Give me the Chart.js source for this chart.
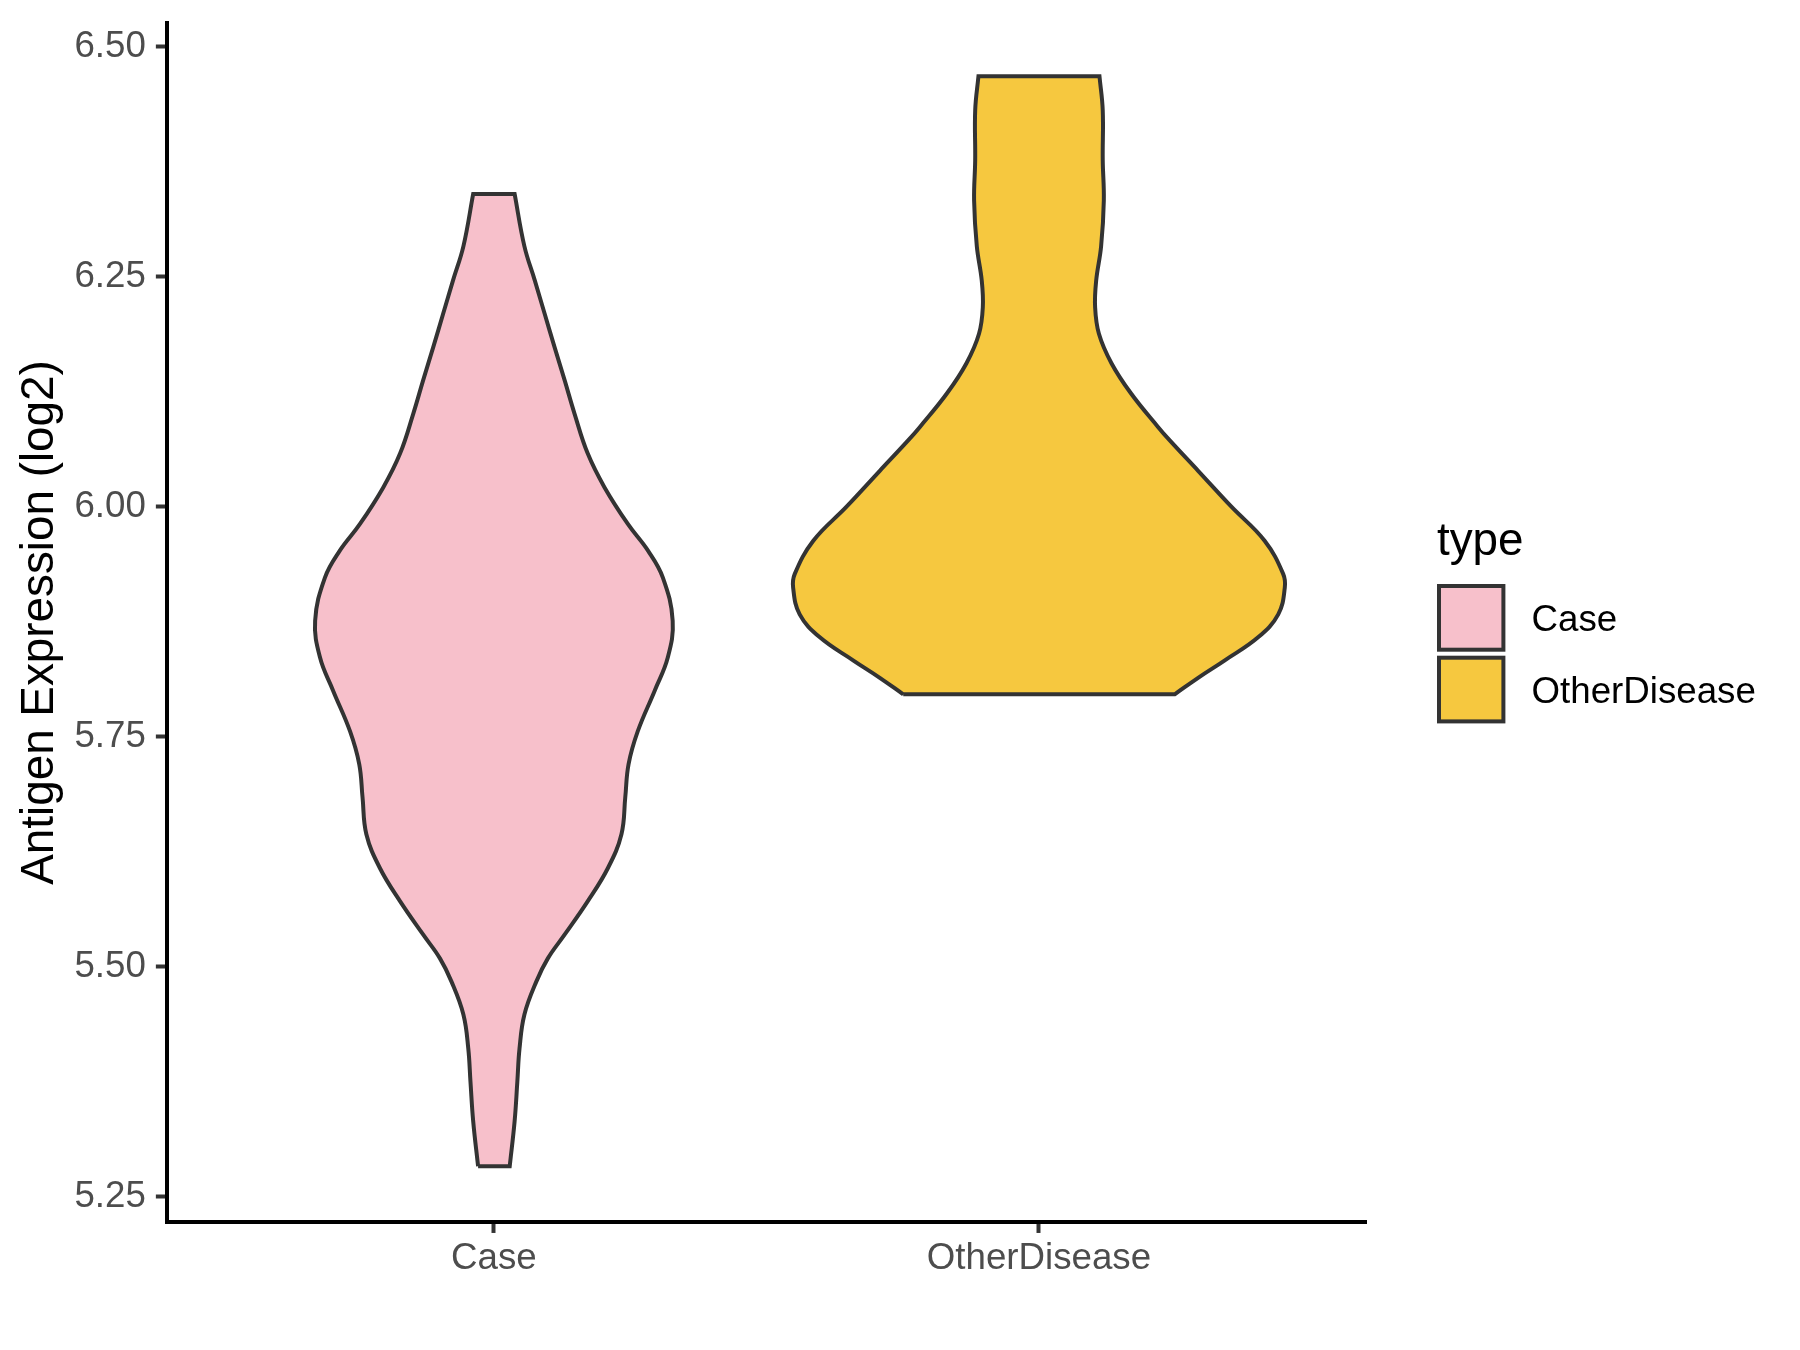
<!DOCTYPE html>
<html>
<head>
<meta charset="utf-8">
<script src="https://cdn.jsdelivr.net/npm/chart.js@4.4.1/dist/chart.umd.min.js"></script>
<style>
  html, body { margin: 0; padding: 0; background: #fff; }
</style>
</head>
<body>
<canvas id="violin" width="1800" height="1350"></canvas>
<script>
// Groups on the x axis and their fills
var groups = ["Case", "OtherDisease"];
var fills = ["#F7C0CB", "#F6C83F"];
var yTicks = [5.25, 5.50, 5.75, 6.00, 6.25, 6.50];

// Violin outlines: value (log2) and half-width (x units)
var caseY = [5.283, 5.332, 5.375, 5.411, 5.448, 5.484, 5.509, 5.535, 5.571, 5.607,
  5.644, 5.684, 5.720, 5.756, 5.800, 5.836, 5.876, 5.923, 5.952, 5.981,
  6.021, 6.058, 6.101, 6.137, 6.174, 6.210, 6.246, 6.283, 6.340];
var caseW = [0.029, 0.038, 0.043, 0.047, 0.056, 0.078, 0.099, 0.130, 0.172, 0.209,
  0.234, 0.241, 0.247, 0.264, 0.295, 0.319, 0.328, 0.310, 0.283, 0.246,
  0.203, 0.172, 0.148, 0.130, 0.111, 0.093, 0.075, 0.056, 0.038];

var otherY = [5.796, 5.814, 5.833, 5.858, 5.883, 5.912, 5.927, 5.963, 6.000, 6.039,
  6.072, 6.087, 6.123, 6.156, 6.188, 6.217, 6.246, 6.283, 6.333, 6.377,
  6.431, 6.468];
var otherW = [0.249, 0.292, 0.341, 0.402, 0.439, 0.451, 0.448, 0.414, 0.353, 0.292,
  0.240, 0.218, 0.169, 0.133, 0.110, 0.103, 0.105, 0.114, 0.119, 0.117,
  0.117, 0.111];

var FONT = '"Liberation Sans", Arial, Helvetica, sans-serif';

// closed outline: up the left side, across the top, down the right side.
// corner points are doubled so the spline keeps the flat ends square.
function outline(pos, ys, ws) {
  var n = ys.length, pts = [], i;
  function L(k) { return { x: pos - ws[k], y: ys[k] }; }
  function R(k) { return { x: pos + ws[k], y: ys[k] }; }
  pts.push(L(0));
  for (i = 0; i < n; i++) pts.push(L(i));
  pts.push(L(n - 1));
  pts.push(R(n - 1));
  for (i = n - 1; i >= 0; i--) pts.push(R(i));
  pts.push(R(0));
  pts.push(L(0));
  pts.push(L(0));
  return pts;
}

function violin(idx, ys, ws) {
  return {
    label: groups[idx],
    data: outline(idx + 1, ys, ws),
    showLine: true, fill: "shape", tension: 0.4,
    backgroundColor: fills[idx], borderColor: "#333333", borderWidth: 4,
    pointRadius: 0, pointHoverRadius: 0
  };
}

// ggplot-style legend to the right of the panel
var typeLegend = {
  id: "typeLegend",
  afterDraw: function (chart) {
    var ctx = chart.ctx;
    var x0 = chart.chartArea.right + 71;
    ctx.save();
    ctx.fillStyle = "#000";
    ctx.textAlign = "left";
    ctx.textBaseline = "alphabetic";
    ctx.font = "45.8px " + FONT;
    ctx.fillText("type", x0, 555);
    chart.data.datasets.forEach(function (ds, i) {
      var top = 586 + i * 71.7;
      ctx.fillStyle = ds.backgroundColor;
      ctx.fillRect(x0 + 2, top, 64.4, 63.7);
      ctx.lineWidth = 4;
      ctx.strokeStyle = ds.borderColor;
      ctx.strokeRect(x0 + 2, top, 64.4, 63.7);
      ctx.fillStyle = "#000";
      ctx.font = "36.7px " + FONT;
      ctx.fillText(ds.label, x0 + 94.5, top + 31.9 + 13.1);
    });
    ctx.restore();
  }
};

new Chart(document.getElementById("violin"), {
  type: "scatter",
  data: { datasets: [violin(0, caseY, caseW), violin(1, otherY, otherW)] },
  plugins: [typeLegend],
  options: {
    responsive: false,
    animation: false,
    events: [],
    layout: { padding: { left: 1, right: 434, top: 23, bottom: 65 } },
    plugins: { legend: { display: false }, tooltip: { enabled: false } },
    scales: {
      x: {
        type: "linear", min: 0.4, max: 2.6,
        afterBuildTicks: function (s) { s.ticks = groups.map(function (g, i) { return { value: i + 1 }; }); },
        ticks: {
          color: "#4D4D4D", font: { family: FONT, size: 36.7 }, padding: 4,
          maxRotation: 0, autoSkip: false,
          callback: function (v) { return groups[Math.round(v) - 1]; }
        },
        grid: { display: true, drawOnChartArea: false, drawTicks: true,
          tickLength: 11, tickColor: "#333333", tickWidth: 4 },
        border: { display: true, color: "#000000", width: 4 }
      },
      y: {
        type: "linear", min: 5.2225, max: 6.5258,
        afterBuildTicks: function (s) { s.ticks = yTicks.map(function (v) { return { value: v }; }); },
        ticks: {
          color: "#4D4D4D", font: { family: FONT, size: 36.7, lineHeight: 0.7 }, padding: 10,
          callback: function (v) { return Number(v).toFixed(2); }
        },
        grid: { display: true, drawOnChartArea: false, drawTicks: true,
          tickLength: 11, tickColor: "#333333", tickWidth: 4 },
        border: { display: true, color: "#000000", width: 4 },
        title: {
          display: true, text: "Antigen Expression (log2)", color: "#000000",
          font: { family: FONT, size: 45.8 }, padding: { top: 11.5, bottom: -3 }
        }
      }
    }
  }
});
</script>
</body>
</html>
